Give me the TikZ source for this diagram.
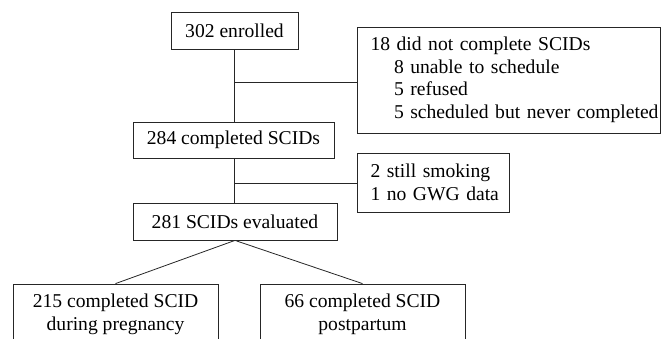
\documentclass[tikz,border=0pt]{standalone}
\usepackage{fontspec}
\setmainfont{Liberation Serif}
\begin{document}
\begin{tikzpicture}[x=1pt,y=-1pt,
  box/.style={draw=black!85, line width=0.8pt, inner sep=0pt, align=center,
    font=\fontsize{19.6}{22.5}\selectfont},
  sidebox/.style={box, align=left, inner xsep=13.5pt},
  link/.style={draw=black!85, line width=0.8pt}]
\useasboundingbox (0,0) rectangle (662,339);
\node[box, minimum width=127pt, minimum height=37pt] (enr) at (234.5,30.5) {302 enrolled};
\node[box, minimum width=201pt, minimum height=36pt] (comp) at (233.5,140) {284 completed SCIDs};
\node[box, minimum width=204pt, minimum height=37pt] (eval) at (235,221.5) {281 SCIDs evaluated};
\node[sidebox, text width=276pt, minimum height=106pt] (ex1) at (508.5,80)
  {\mbox{18 did not complete SCIDs}\\
   \mbox{\hspace*{23.5pt}8 unable to schedule}\\
   \mbox{\hspace*{23.5pt}5 refused}\\
   \mbox{\hspace*{23.5pt}5 scheduled but never completed}};
\node[sidebox, text width=125pt, minimum height=59pt] (ex2) at (433,182.5)
  {\mbox{2 still smoking}\\\mbox{1 no GWG data}};
\node[box, minimum width=205pt, minimum height=61pt] (preg) at (115.5,314.5)
  {215 completed SCID\\during pregnancy};
\node[box, minimum width=205pt, minimum height=61pt] (post) at (362.5,314.5)
  {66 completed SCID\\postpartum};
\coordinate (j1) at (235,82);
\coordinate (j2) at (235,183);
\draw[link] (enr.south) -- (enr.south |- comp.north);
\draw[link] (enr.south |- comp.south) -- (enr.south |- eval.north);
\draw[link] (j1) -- (j1 -| ex1.west);
\draw[link] (j2) -- (j2 -| ex2.west);
\draw[link] (eval.south) -- (preg.north);
\draw[link] (eval.south) -- (post.north);
\end{tikzpicture}
\end{document}
